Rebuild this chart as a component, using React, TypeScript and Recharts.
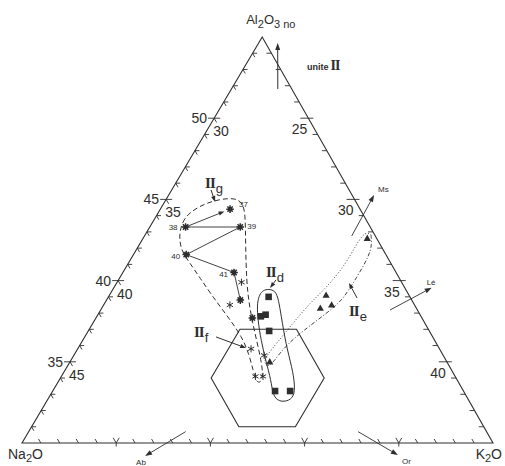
import React from 'react';
import { ScatterChart, Scatter, XAxis, YAxis } from 'recharts';

const INK = '#2e2e2e';
const SANS = '"Liberation Sans", Arial, sans-serif';
const SERIF = '"Liberation Serif", "DejaVu Serif", serif';

// compositions are [Al2O3, K2O]; Na2O = 100 - Al2O3 - K2O
// the plotted sub-triangle: Al2O3 30-55, Na2O 25-50, K2O 20-45
const frame = [[55, 20], [30, 20], [30, 45]];
const hexagon = [[37, 28], [37, 31], [34, 34], [31, 34], [31, 31], [34, 28]];

const starsFilled = [[44.4, 23.7], [43.3, 21.9], [43.3, 24.8], [41.6, 22.8], [40.5, 25.9], [38.8, 27.1], [37.7, 28.3]];
const sampleIds = ['37', '38', '39', '40', '41'];
const sampleLinks = [[1, 2], [3, 2], [3, 4], [4, 5]];
const starsOpen = [[39.9, 26.6], [38.5, 26.7], [35.8, 29.2], [35.4, 30.1], [34.1, 30.3], [34.1, 30.7]];
const squares = [[39.0, 28.5], [37.8, 28.7], [37.9, 28.9], [36.9, 29.6], [33.2, 31.8], [33.2, 32.6]];
const triangles = [[42.6, 31.9], [39.1, 31.5], [38.3, 31.6], [38.5, 32.1], [35.0, 30.6]];

const envG = [
  [42.75, 21.83], [43.61, 21.55], [44.22, 21.66], [44.72, 22.15], [45.02, 22.85], [45.09, 23.61],
  [44.78, 24.19], [43.98, 24.73], [42.07, 25.71], [40.04, 26.8], [38.81, 27.53], [37.57, 28.35],
  [36.22, 29.3], [35.11, 30.08], [34.25, 30.63], [33.69, 30.8], [33.76, 30.5], [34.5, 29.97],
  [35.48, 29.25], [36.53, 28.35], [37.76, 26.98], [38.99, 25.55], [40.16, 24.27], [41.15, 23.18],
  [41.88, 22.38],
];
const envD = [
  [39.48, 28.17], [39.42, 28.57], [39.05, 28.97], [37.88, 29.73], [36.03, 30.94], [34.68, 31.94],
  [33.57, 32.67], [32.83, 32.99], [32.56, 32.76], [32.56, 32.34], [32.89, 31.85], [33.88, 31.24],
  [34.99, 30.41], [36.34, 29.45], [37.57, 28.66], [38.5, 28.14], [39.05, 27.96], [39.36, 27.97],
];
const envEUpper = [
  [34.74, 30.59], [34.99, 30.3], [35.42, 30.24], [36.16, 30.39], [37.39, 30.62], [38.62, 30.89],
  [39.61, 31.29], [40.96, 31.56], [42.19, 31.51], [42.75, 31.55], [42.99, 31.69], [42.81, 31.99],
];
const envELower = [
  [42.81, 31.99], [42.25, 32.33], [41.51, 32.55], [40.22, 32.57], [38.87, 32.52], [38.31, 32.27],
  [37.64, 31.87], [36.9, 31.4], [36.22, 31.05], [35.48, 30.85], [34.86, 30.79], [34.74, 30.59],
];

const leftTicks = [31, 32, 33, 34, 35, 36, 37, 38, 39, 40, 41, 42, 43, 44, 45, 46, 47, 48, 49, 50, 51, 52, 53, 54];
const leftMajor = [35, 40, 45, 50];
const kTicks = [21, 22, 23, 24, 25, 26, 27, 28, 29, 30, 31, 32, 33, 34, 35, 36, 37, 38, 39, 40, 41, 42, 43, 44];
const kMajor = [25, 30, 35, 40];

const mineralArrows = [
  { name: 'Ms', from: [42.75, 31.0], to: [45.27, 30.9], dx: 4, dy: -3 },
  { name: 'Lé', from: [38.19, 35.36], to: [39.56, 36.87], dx: -5, dy: -3 },
  { name: 'Ab', from: [30.7, 28.33], to: [29.2, 26.94], dx: -9, dy: 9 },
  { name: 'Or', from: [30.7, 37.48], to: [29.26, 40.33], dx: 4, dy: 9 },
];
const normalArrow = [[51.8, 22.46], [54.63, 21.01]];
const uniteAt = [52.97, 23.41];

const groups = [
  { sub: 'g', at: [45.7, 21.71], arrow: [[45.58, 22.09], [44.84, 22.68]] },
  { sub: 'd', at: [40.22, 27.74], arrow: [[40.04, 28.36], [39.54, 28.3]] },
  { sub: 'e', at: [37.82, 33.37], arrow: [[38.93, 33.23], [39.85, 32.33]] },
  { sub: 'f', at: [36.53, 25.8], arrow: [[36.53, 26.97], [35.85, 28.91]] },
];

const SKEW = 0.51;
const toXY = (al: number, k: number) => {
  const a = (al - 30) / 25;
  return { x: (k - 20) / 25 + SKEW * a, y: a };
};
const pts = (list: number[][]) => list.map(([al, k]) => ({ ...toXY(al, k), al, k }));

const Nothing = () => <g />;

const StarFilled = ({ cx, cy }: any) => (
  <g stroke={INK} strokeWidth={1.5}>
    <path d={`M${cx - 3.8},${cy}H${cx + 3.8}M${cx},${cy - 3.8}V${cy + 3.8}M${cx - 2.7},${cy - 2.7}L${cx + 2.7},${cy + 2.7}M${cx - 2.7},${cy + 2.7}L${cx + 2.7},${cy - 2.7}`} />
    <circle cx={cx} cy={cy} r={1.6} fill={INK} />
  </g>
);
const StarOpen = ({ cx, cy }: any) => (
  <path
    d={`M${cx},${cy - 3.6}V${cy + 3.6}M${cx - 3.1},${cy - 1.8}L${cx + 3.1},${cy + 1.8}M${cx - 3.1},${cy + 1.8}L${cx + 3.1},${cy - 1.8}`}
    stroke={INK}
    strokeWidth={1}
  />
);
const Square = ({ cx, cy }: any) => <rect x={cx - 3.3} y={cy - 3.3} width={6.6} height={6.6} fill={INK} />;
const Tri = ({ cx, cy }: any) => (
  <path d={`M${cx},${cy - 3.8}L${cx + 3.6},${cy + 2.6}L${cx - 3.6},${cy + 2.6}Z`} fill={INK} />
);

const LeftTick = ({ cx, cy, payload }: any) => {
  const major = leftMajor.includes(payload.al);
  return (
    <g>
      <path
        d={major ? `M${cx - 6},${cy}H${cx + 6}M${cx},${cy}l2.5,4.3` : `M${cx},${cy}h4.5M${cx},${cy}l2.3,4`}
        stroke={INK}
        strokeWidth={0.9}
        fill="none"
      />
      {major && (
        <g fontFamily={SANS} fontSize={14} fill={INK}>
          <text x={cx - 7} y={cy + 5} textAnchor="end">{payload.al}</text>
          <text x={cx - 1} y={cy + 18}>{100 - payload.al - payload.k}</text>
        </g>
      )}
    </g>
  );
};
const BaseTick = ({ cx, cy, payload }: any) => {
  const major = kMajor.includes(payload.k);
  return (
    <path
      d={major ? `M${cx},${cy}l-3,-5.2M${cx},${cy}l3,-5.2M${cx},${cy}v3.5` : `M${cx},${cy}l-2.3,-4`}
      stroke={INK}
      strokeWidth={0.9}
      fill="none"
    />
  );
};
const RightTick = ({ cx, cy, payload }: any) => {
  const major = kMajor.includes(payload.k);
  return (
    <g>
      <path d={major ? `M${cx - 8},${cy}H${cx + 5}` : `M${cx},${cy}h-5`} stroke={INK} strokeWidth={0.9} fill="none" />
      {major && (
        <text x={cx - 1} y={cy + 16} textAnchor="end" fontFamily={SANS} fontSize={14} fill={INK}>
          {payload.k}
        </text>
      )}
    </g>
  );
};

const sampleOffsets: Record<string, [number, number, 'start' | 'end']> = {
  '37': [9, -2, 'start'],
  '38': [-8, 3, 'end'],
  '39': [7, 2, 'start'],
  '40': [-6, 4, 'end'],
  '41': [-6, 5, 'end'],
};
const SampleLabel = ({ cx, cy, payload }: any) => {
  const [dx, dy, anchor] = sampleOffsets[payload.id];
  return (
    <text x={cx + dx} y={cy + dy} textAnchor={anchor} fontFamily={SANS} fontSize={8} fill={INK}>
      {payload.id}
    </text>
  );
};

const GroupLabel = ({ cx, cy, payload }: any) => (
  <text x={cx} y={cy} fill={INK}>
    <tspan fontFamily={SERIF} fontWeight={700} fontSize={15} letterSpacing={-1}>II</tspan>
    <tspan fontFamily={SANS} fontSize={13} dx={1} dy={5}>{payload.sub}</tspan>
  </text>
);

const MineralLabel = ({ cx, cy, payload }: any) =>
  payload.end ? (
    <text x={cx + payload.dx} y={cy + payload.dy} fontFamily={SANS} fontSize={8} fill={INK}>
      {payload.name}
    </text>
  ) : (
    <g />
  );

const VertexLabel = ({ cx, cy, payload }: any) => {
  if (payload.kind === 'top') {
    return (
      <text x={cx - 16} y={cy - 13} fontFamily={SANS} fontSize={13} fill={INK}>
        Al<tspan fontSize={11} dy={4}>2</tspan>
        <tspan dy={-4}>O</tspan>
        <tspan fontSize={11} dy={4}>3</tspan>
        <tspan fontSize={11} dx={3}>no</tspan>
      </text>
    );
  }
  if (payload.kind === 'left') {
    return (
      <text x={cx - 14} y={cy + 16} fontFamily={SANS} fontSize={14} fill={INK}>
        Na<tspan fontSize={11} dy={3}>2</tspan>
        <tspan dy={-3}>O</tspan>
      </text>
    );
  }
  return (
    <text x={cx + 9} y={cy + 16} textAnchor="end" fontFamily={SANS} fontSize={14} fill={INK}>
      K<tspan fontSize={11} dy={3}>2</tspan>
      <tspan dy={-3}>O</tspan>
    </text>
  );
};

const UniteLabel = ({ cx, cy }: any) => (
  <text x={cx} y={cy} fill={INK}>
    <tspan fontFamily={SANS} fontSize={9} fontWeight={700}>unite</tspan>
    <tspan fontFamily={SERIF} fontSize={14} fontWeight={700} dx={2} letterSpacing={-1}>II</tspan>
  </text>
);

// straight line through the scaled points, with a filled head at the last one
const arrowLine = (width: number, gap = 0, head = 7) => (p: any) => {
  const ps = p.points;
  const a = ps[ps.length - 2];
  const b = ps[ps.length - 1];
  const ang = Math.atan2(b.y - a.y, b.x - a.x);
  const c = Math.cos(ang);
  const s = Math.sin(ang);
  const tx = b.x - gap * c;
  const ty = b.y - gap * s;
  const bx = tx - head * c;
  const by = ty - head * s;
  const hw = head * 0.36;
  const d = ps
    .slice(0, -1)
    .map((q: any, i: number) => `${i ? 'L' : 'M'}${q.x},${q.y}`)
    .join(' ');
  return (
    <g>
      <path d={`${d} L${bx},${by}`} fill="none" stroke={INK} strokeWidth={width} />
      <path d={`M${tx},${ty}L${bx - hw * s},${by + hw * c}L${bx + hw * s},${by - hw * c}Z`} fill={INK} />
    </g>
  );
};
const plainLine = (p: any) => (
  <path
    d={p.points.map((q: any, i: number) => `${i ? 'L' : 'M'}${q.x},${q.y}`).join(' ')}
    fill="none"
    stroke={INK}
    strokeWidth={0.9}
  />
);

export default function App() {
  const filled = pts(starsFilled);
  const samples = filled.slice(0, sampleIds.length).map((d, i) => ({ ...d, id: sampleIds[i] }));
  const vertices = pts(frame).map((d, i) => ({ ...d, kind: ['top', 'left', 'right'][i] }));
  const leftTickData = leftTicks.map((al) => ({ ...toXY(al, 20), al, k: 20 }));
  const baseTickData = kTicks.map((k) => ({ ...toXY(30, k), al: 30, k }));
  const rightTickData = kTicks.map((k) => ({ ...toXY(75 - k, k), al: 75 - k, k }));

  return (
    <div style={{ position: 'absolute', left: 0, top: 0, width: 505, height: 466, background: '#fff' }}>
      <ScatterChart width={505} height={466} margin={{ top: 0, right: 0, bottom: 0, left: 0 }}>
        <XAxis type="number" dataKey="x" domain={[-22 / 471, 483 / 471]} hide allowDataOverflow />
        <YAxis type="number" dataKey="y" domain={[-23 / 406, 443 / 406]} hide allowDataOverflow />

        {/* envelopes */}
        <Scatter data={pts(envG)} fill={INK} line={{ stroke: INK, strokeWidth: 1, strokeDasharray: '5 3' }} lineJointType="basisClosed" shape={Nothing} isAnimationActive={false} />
        <Scatter data={pts(envD)} fill={INK} line={{ stroke: INK, strokeWidth: 1 }} lineJointType="basisClosed" shape={Nothing} isAnimationActive={false} />
        <Scatter data={pts(envEUpper)} fill={INK} line={{ stroke: INK, strokeWidth: 0.9, strokeDasharray: '1 2' }} lineJointType="basis" shape={Nothing} isAnimationActive={false} />
        <Scatter data={pts(envELower)} fill={INK} line={{ stroke: INK, strokeWidth: 0.9, strokeDasharray: '4 2 1 2' }} lineJointType="basis" shape={Nothing} isAnimationActive={false} />

        {/* frame and hexagon */}
        <Scatter data={pts(hexagon)} fill={INK} line={{ stroke: INK, strokeWidth: 1.1 }} lineJointType="linearClosed" shape={Nothing} isAnimationActive={false} />
        <Scatter data={pts(frame)} fill={INK} line={{ stroke: INK, strokeWidth: 1.1 }} lineJointType="linearClosed" shape={Nothing} isAnimationActive={false} />
        <Scatter data={leftTickData} fill={INK} shape={LeftTick} isAnimationActive={false} />
        <Scatter data={baseTickData} fill={INK} shape={BaseTick} isAnimationActive={false} />
        <Scatter data={rightTickData} fill={INK} shape={RightTick} isAnimationActive={false} />
        <Scatter data={vertices} fill={INK} shape={VertexLabel} isAnimationActive={false} />

        {/* reference arrows */}
        <Scatter data={pts(normalArrow)} fill={INK} line={arrowLine(1)} shape={Nothing} isAnimationActive={false} />
        <Scatter data={[{ ...toXY(uniteAt[0], uniteAt[1]) }]} fill={INK} shape={UniteLabel} isAnimationActive={false} />
        {mineralArrows.map((m) => (
          <Scatter
            key={m.name}
            data={[
              { ...toXY(m.from[0], m.from[1]), name: m.name, end: false, dx: m.dx, dy: m.dy },
              { ...toXY(m.to[0], m.to[1]), name: m.name, end: true, dx: m.dx, dy: m.dy },
            ]}
            fill={INK}
            line={arrowLine(0.9)}
            shape={MineralLabel}
            isAnimationActive={false}
          />
        ))}

        {/* sample links */}
        <Scatter data={[filled[1], filled[0]]} fill={INK} line={arrowLine(0.9, 6, 6)} shape={Nothing} isAnimationActive={false} />
        {sampleLinks.map(([a, b]) => (
          <Scatter key={`${a}-${b}`} data={[filled[a], filled[b]]} fill={INK} line={plainLine} shape={Nothing} isAnimationActive={false} />
        ))}

        {/* group labels */}
        {groups.map((g) => (
          <Scatter key={`arr-${g.sub}`} data={pts(g.arrow)} fill={INK} line={arrowLine(1, 0, 6)} shape={Nothing} isAnimationActive={false} />
        ))}
        <Scatter data={groups.map((g) => ({ ...toXY(g.at[0], g.at[1]), sub: g.sub }))} fill={INK} shape={GroupLabel} isAnimationActive={false} />

        {/* samples */}
        <Scatter data={filled} fill={INK} shape={StarFilled} isAnimationActive={false} />
        <Scatter data={pts(starsOpen)} fill={INK} shape={StarOpen} isAnimationActive={false} />
        <Scatter data={pts(squares)} fill={INK} shape={Square} isAnimationActive={false} />
        <Scatter data={pts(triangles)} fill={INK} shape={Tri} isAnimationActive={false} />
        <Scatter data={samples} fill={INK} shape={SampleLabel} isAnimationActive={false} />
      </ScatterChart>
    </div>
  );
}
